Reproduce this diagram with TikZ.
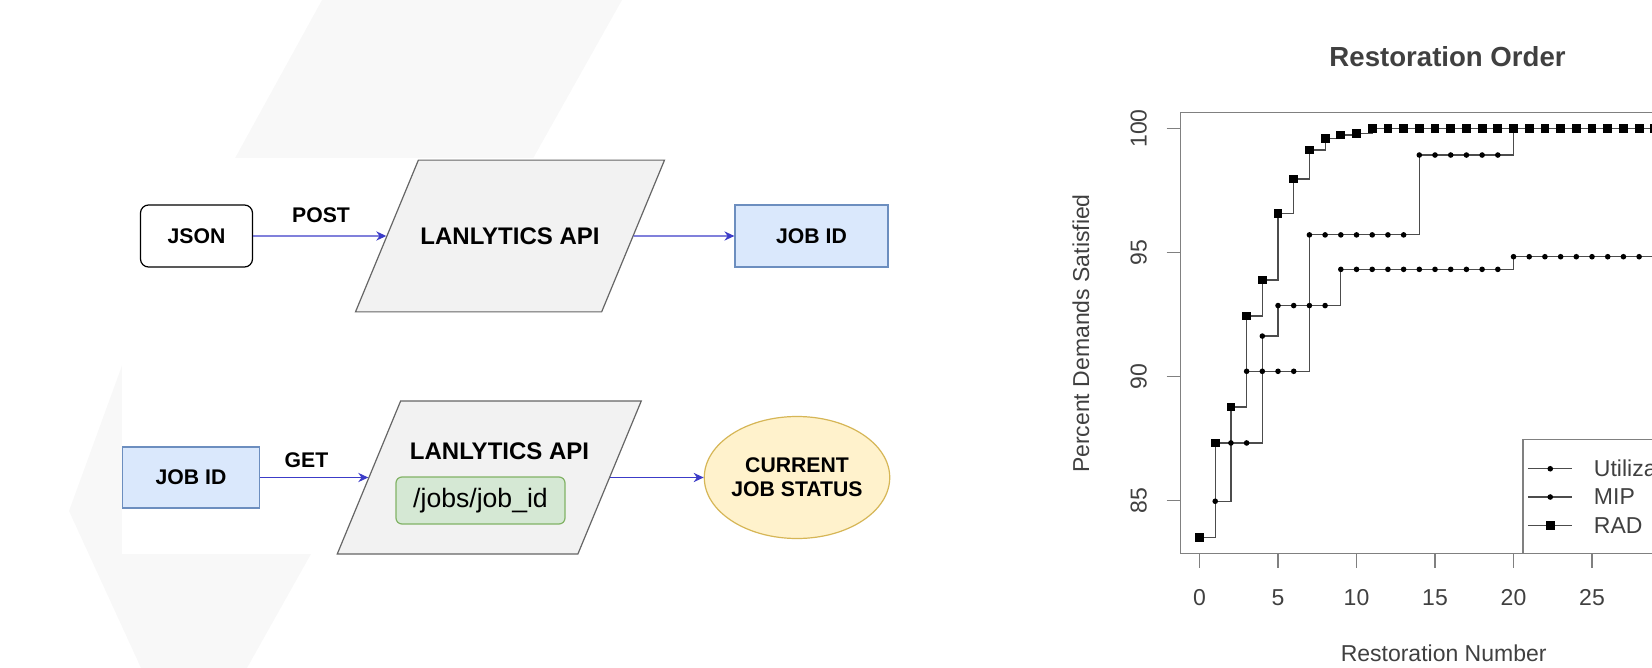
\documentclass[tikz,border=0pt]{standalone}
\usepackage{fontspec}
\setmainfont{Liberation Sans}
\usetikzlibrary{arrows.meta,shapes.geometric}
\definecolor{arrowblue}{RGB}{60,60,200}
\definecolor{idfill}{RGB}{218,232,252}
\definecolor{idline}{RGB}{108,142,191}
\definecolor{routefill}{RGB}{213,232,212}
\definecolor{routeline}{RGB}{130,179,102}
\definecolor{statfill}{RGB}{255,242,204}
\definecolor{statline}{RGB}{214,182,86}
\definecolor{apifill}{RGB}{242,242,242}
\definecolor{wmark}{RGB}{248,248,248}
\tikzstyle{dedge} = [draw,arrowblue,line width=0.7pt,-{Stealth[length=5pt,width=4.6pt]}]
\tikzstyle{stepline} = [draw,black!70,line width=0.6pt]
\tikzstyle{frame} = [draw=black!50,line width=0.75pt]
\tikzset{
  flownode/.style = {align=center, inner sep=0pt, line width=0.6pt,
    font=\fontsize{10.6}{12}\selectfont\bfseries},
  jsonbox/.style = {flownode, rectangle, rounded corners=4pt, draw=black, minimum width=56pt, minimum height=31pt},
  idbox/.style = {flownode, rectangle, draw=idline, fill=idfill},
  apibox/.style = {flownode, trapezium, trapezium left angle=67.5, trapezium right angle=112.5,
    trapezium stretches body, draw=black!60, fill=apifill, inner xsep=0pt,
    font=\fontsize{12}{14}\selectfont\bfseries},% parallelogramme
  apilabel/.style = {inner sep=0pt, font=\fontsize{12}{14}\selectfont\bfseries},
  routebox/.style = {rectangle, rounded corners=3pt, draw=routeline, fill=routefill, line width=0.6pt,
    minimum width=84.5pt, minimum height=23.5pt, inner sep=0pt, font=\fontsize{13.3}{15}\selectfont},
  statusnode/.style = {flownode, ellipse, draw=statline, fill=statfill, minimum width=91pt, minimum height=61pt},
  verb/.style = {inner sep=0pt, font=\fontsize{10.6}{12}\selectfont\bfseries},
  dotmark/.style = {circle, fill=black, inner sep=0pt, minimum size=2.8pt},
  sqmark/.style = {rectangle, fill=black, inner sep=0pt, minimum size=4.4pt},
  plottext/.style = {text=black!75, inner sep=0pt, font=\fontsize{11.5}{13}\selectfont},
}
\begin{document}
\begin{tikzpicture}[x=0.5pt,y=-0.5pt]
\useasboundingbox (0,0) rectangle (1652,668);
\clip (0,0) rectangle (1652,668);

% backdrop
\fill[wmark] (322,0) -- (622,0) -- (247,668) -- (141,668) -- (69,511) -- (124,360) -- cycle;
\fill[white] (122,158) rectangle (900,554);

% POST
\node[jsonbox] (json) at (196.5,236) {JSON};
\node[apibox, minimum width=154.5pt, inner ysep=33.7pt] (api1) at (510,236) {LANLYTICS API};
\node[idbox, minimum width=76.5pt, minimum height=31pt] (job1) at (811.5,236) {JOB ID};
\node[verb] (post) at (321,215) {POST};
\path[dedge] (json) -- (api1);
\path[dedge] (api1) -- (job1);

% GET
\node[idbox, minimum width=68.75pt, minimum height=30.5pt] (job2) at (191,477.5) {JOB ID};
\node[apibox, minimum width=152pt, inner ysep=38.25pt] (api2) at (489.25,477.5) {};
\node[apilabel] (api2label) at (499.5,451.7) {LANLYTICS API};
\node[routebox] (route) at (480.5,500.5) {/jobs/job\_id};
\node[statusnode] (status) at (797,477.5) {CURRENT\\JOB STATUS};
\node[verb] (get) at (306.5,460) {GET};
\path[dedge] (job2) -- (api2);
\path[dedge] (api2) -- (status);

% restoration plot
\begin{scope}[shift={(1199.5,2608.5)},x=7.85pt,y=12.4pt]
  \draw[frame] (-1.2,82.86) rectangle (34,100.65);
  \foreach \n in {0,5,...,25}{
    \draw[frame] (\n,82.86) -- (\n,82.28);
    \node[plottext] (xl\n) at (\n,81.07) {\n};
  }
  \foreach \v in {85,90,95,100}{
    \draw[frame] (-2.09,\v) -- (-1.2,\v);
    \node[plottext,rotate=90] (yl\v) at (-3.87,\v) {\v};
  }
  \node[plottext,font=\fontsize{13.8}{16}\selectfont\bfseries] (title) at (15.8,102.88) {Restoration Order};
  \node[plottext,rotate=90] (ylab) at (-7.55,91.73) {Percent Demands Satisfied};
  \node[plottext] (xlab) at (15.55,78.85) {Restoration Number};

  \draw[stepline] (0,83.52) -| (1,87.32) -| (2,88.77) -| (3,90.21) -| (7,95.71) -| (14,98.93) -| (20,100) -- (32,100);
  \draw[stepline] (0,83.52) -| (1,84.97) -| (2,87.32) -| (4,91.63) -| (5,92.86) -| (9,94.32) -| (20,94.83) -- (32,94.83);
  \draw[stepline] (0,83.52) -| (1,87.32) -| (2,88.77) -| (3,92.44) -| (4,93.89) -| (5,96.58) -| (6,97.96)
    -| (7,99.13) -| (8,99.6) -| (9,99.74) -| (10,99.81) -| (11,100) -- (32,100);

  \foreach \a/\b/\v in {0/0/83.52,1/1/87.32,2/2/88.77,3/6/90.21,7/13/95.71,14/19/98.93,20/32/100}
    \foreach \n in {\a,...,\b} \node[dotmark] (util\n) at (\n,\v) {};
  \foreach \a/\b/\v in {0/0/83.52,1/1/84.97,2/3/87.32,4/4/91.63,5/8/92.86,9/19/94.32,20/32/94.83}
    \foreach \n in {\a,...,\b} \node[dotmark] (mip\n) at (\n,\v) {};
  \foreach \n/\v in {0/83.52,1/87.32,2/88.77,3/92.44,4/93.89,5/96.58,6/97.96,7/99.13,8/99.6,9/99.74,10/99.81}
    \node[sqmark] (rad\n) at (\n,\v) {};
  \foreach \n in {11,...,32} \node[sqmark] (rad\n) at (\n,100) {};

  % legend
  \draw[frame,fill=white] (20.6,82.86) rectangle (34,87.45);
  \foreach \v/\legtext/\legmark in {86.28/Utilization/dotmark,85.14/MIP/dotmark,84.0/RAD/sqmark}{
    \draw[stepline] (20.92,\v) -- (23.73,\v);
    \node[\legmark] (mk\legtext) at (22.34,\v) {};
    \node[plottext,anchor=west] (lg\legtext) at (25.1,\v) {\legtext};
  }
\end{scope}
\end{tikzpicture}
\end{document}
